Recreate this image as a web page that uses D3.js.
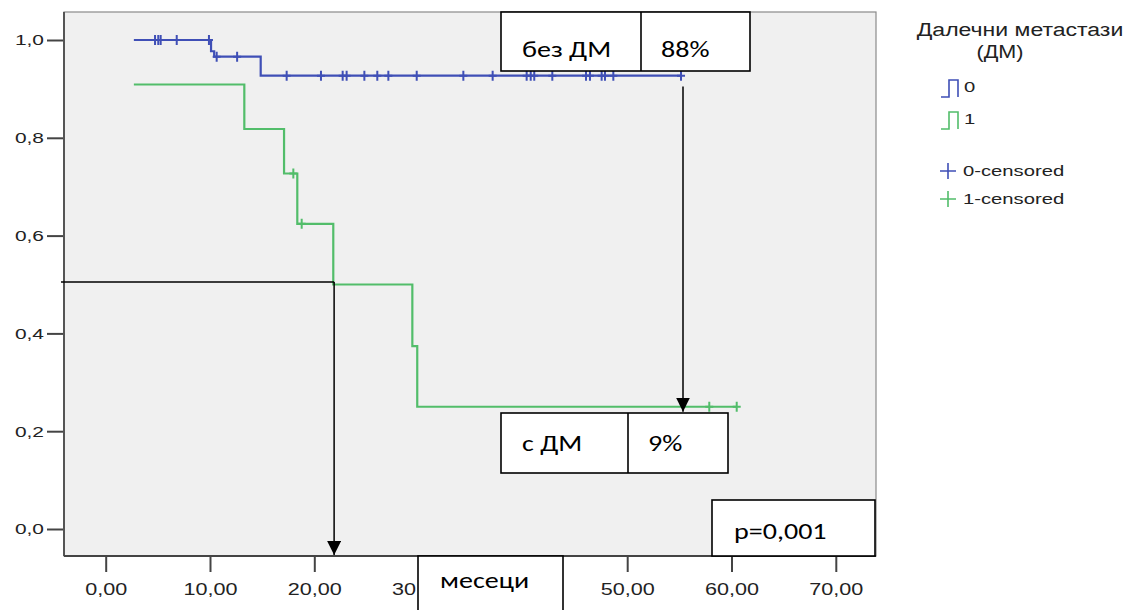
<!DOCTYPE html>
<html>
<head>
<meta charset="utf-8">
<script src="https://cdn.jsdelivr.net/npm/d3@7"></script>
<style>
  html, body { margin: 0; padding: 0; background: #ffffff; }
  svg { display: block; }
</style>
</head>
<body>
<svg id="chart" width="1139" height="610"></svg>
<script>
// Kaplan–Meier curves: survival by distant metastases (ДМ)
const groupNames = ["0", "1"];
const groupColors = ["#3f4fb6", "#52bd6a"];

// Group 0 (no distant metastases): step times (months) and survival after each step
const times0 = [2.7, 10.1, 10.4, 14.86, 55.16];
const surv0 = [1.0, 0.977, 0.966, 0.927, 0.927];
const censor0 = [4.73, 5.04, 5.27, 6.81, 9.9, 10.64, 12.6, 17.35, 20.64, 22.72, 23.1,
  24.8, 26.04, 27.1, 29.82, 34.29, 37.1, 40.36, 40.75, 41.09, 42.82, 46.05, 46.43,
  47.55, 47.87, 48.67, 55.16];

// Group 1 (with distant metastases)
const times1 = [2.7, 13.29, 17.1, 18.37, 21.82, 29.4, 29.87, 60.5];
const surv1 = [0.909, 0.818, 0.727, 0.624, 0.5, 0.374, 0.25, 0.25];
const censor1 = [17.99, 18.79, 57.87, 60.5];

// Axis ticks
const xTickValues = [0, 10, 20, 30, 40, 50, 60, 70];
const xTickLabels = ["0,00", "10,00", "20,00", "30,00", "40,00", "50,00", "60,00", "70,00"];
const yTickValues = [0, 0.2, 0.4, 0.6, 0.8, 1.0];
const yTickLabels = ["0,0", "0,2", "0,4", "0,6", "0,8", "1,0"];

// Annotations
const medianPoint = { t: 21.9, s: 0.505 };
const endArrow = { t: 55.35, from: 0.905, to: 0.24 };
const boxNo = ["без ДМ", "88%"];
const boxYes = ["с ДМ", "9%"];
const pText = "p=0,001";
const xTitle = "месеци";
const legendTitle = ["Далечни метастази", "(ДМ)"];
const legendLabels = ["0", "1", "0-censored", "1-censored"];

const svg = d3.select("#chart");
const frame = { left: 64, top: 12, right: 876, bottom: 556 };
const titleBox = { x: 418, y: 556, w: 145, h: 60 };
const sansFont = "'Liberation Sans', Arial, sans-serif";
const boxFont = "Carlito, Calibri, Lato, 'Open Sans', sans-serif";
const stretch = 1.35; // horizontal stretch of the text

const x = d3.scaleLinear().domain([0, 70]).range([105.7, 835.8]);
const y = d3.scaleLinear().domain([0, 1]).range([529, 40]);
const defs = svg.append("defs");

// plot background
svg.append("rect")
  .attr("x", frame.left).attr("y", frame.top)
  .attr("width", frame.right - frame.left).attr("height", frame.bottom - frame.top)
  .attr("fill", "#f0f0f0").attr("stroke", "#8a8a8a").attr("stroke-width", 1.2);

// axes
const xAxis = d3.axisBottom(x).tickValues(xTickValues)
  .tickFormat((d, i) => xTickLabels[i]).tickSize(16).tickSizeOuter(0);
const gx = svg.append("g").attr("transform", `translate(0,${frame.bottom})`).call(xAxis);
gx.select(".domain").remove();
gx.selectAll(".tick line").attr("stroke", "#444").attr("stroke-width", 2);
gx.selectAll(".tick text")
  .attr("font-family", sansFont).attr("font-size", 16).attr("fill", "#222")
  .attr("dy", null).attr("y", 39).attr("transform", `scale(${stretch},1)`);

// tick labels running under the axis-title box are cut at its left edge
gx.selectAll(".tick text").each(function () {
  const t = d3.select(this);
  const r = this.getBoundingClientRect();
  if (r.right <= titleBox.x || r.left >= titleBox.x + titleBox.w) return;
  if (r.left >= titleBox.x) { t.remove(); return; }
  const bb = this.getBBox();
  t.attr("text-anchor", "start").attr("x", bb.x);
  let s = t.text();
  while (s.length && this.getBoundingClientRect().right > titleBox.x) {
    s = s.slice(0, -1);
    t.text(s);
  }
});

const yAxis = d3.axisLeft(y).tickValues(yTickValues)
  .tickFormat((d, i) => yTickLabels[i]).tickSize(17).tickSizeOuter(0);
const gy = svg.append("g").attr("transform", `translate(${frame.left},0)`).call(yAxis);
gy.select(".domain").remove();
gy.selectAll(".tick line").attr("stroke", "#444").attr("stroke-width", 2);
gy.selectAll(".tick text")
  .attr("font-family", sansFont).attr("font-size", 15.5).attr("fill", "#222")
  .attr("x", -20 / stretch).attr("transform", `scale(${stretch},1)`);

// axis lines
svg.append("line").attr("x1", frame.left).attr("x2", frame.left)
  .attr("y1", frame.top).attr("y2", frame.bottom).attr("stroke", "#555").attr("stroke-width", 2);
svg.append("line").attr("x1", frame.left).attr("x2", frame.right)
  .attr("y1", frame.bottom).attr("y2", frame.bottom).attr("stroke", "#444").attr("stroke-width", 2);

// survival curves
const stepLine = d3.line().x(d => x(d[0])).y(d => y(d[1])).curve(d3.curveStepAfter);
const curves = [d3.zip(times0, surv0), d3.zip(times1, surv1)];
curves.forEach((pts, i) => {
  svg.append("path").attr("d", stepLine(pts))
    .attr("fill", "none").attr("stroke", groupColors[i]).attr("stroke-width", 2.2);
});

// survival value at time t, used to place the censor marks
function survAt(times, surv, t) {
  let s = surv[0];
  for (let i = 0; i < times.length; i++) if (times[i] <= t) s = surv[i];
  return s;
}
const censors = [
  censor0.map(t => [t, survAt(times0, surv0, t)]),
  censor1.map(t => [t, survAt(times1, surv1, t)])
];
censors.forEach((pts, i) => {
  const g = svg.append("g").attr("stroke", groupColors[i]).attr("stroke-width", 2);
  g.selectAll("path").data(pts).join("path")
    .attr("d", d => `M${x(d[0])},${y(d[1]) - 5}V${y(d[1]) + 5}M${x(d[0]) - 4},${y(d[1])}H${x(d[0]) + 4}`);
});

// arrow marker
defs.append("marker").attr("id", "arrow").attr("viewBox", "0 0 14 14")
  .attr("refX", 14).attr("refY", 7).attr("markerWidth", 14).attr("markerHeight", 14)
  .attr("markerUnits", "userSpaceOnUse").attr("orient", "auto")
  .append("path").attr("d", "M0,0L14,7L0,14Z").attr("fill", "#000");

// median: horizontal line and arrow down to the time axis
svg.append("line").attr("x1", frame.left - 3).attr("x2", x(medianPoint.t))
  .attr("y1", y(medianPoint.s)).attr("y2", y(medianPoint.s))
  .attr("stroke", "#000").attr("stroke-width", 1.5);
svg.append("line").attr("x1", x(medianPoint.t)).attr("x2", x(medianPoint.t))
  .attr("y1", y(medianPoint.s)).attr("y2", frame.bottom - 1)
  .attr("stroke", "#000").attr("stroke-width", 1.5).attr("marker-end", "url(#arrow)");

// arrow from group 0 to group 1 at the end of follow-up
svg.append("line").attr("x1", x(endArrow.t)).attr("x2", x(endArrow.t))
  .attr("y1", y(endArrow.from)).attr("y2", y(endArrow.to))
  .attr("stroke", "#000").attr("stroke-width", 1.5).attr("marker-end", "url(#arrow)");

// stretched text helper
function sText(g, tx, ty, str, size, family, sx, anchor) {
  return g.append("text")
    .attr("transform", `translate(${tx},${ty}) scale(${sx},1)`)
    .attr("text-anchor", anchor || "start")
    .attr("font-family", family).attr("font-size", size).attr("fill", "#000")
    .text(str);
}

// annotation boxes
function labelBox(x0, y0, w, h, parts, divX) {
  const g = svg.append("g");
  g.append("rect").attr("x", x0).attr("y", y0).attr("width", w).attr("height", h)
    .attr("fill", "#fff").attr("stroke", "#000").attr("stroke-width", 1.6);
  if (divX != null) {
    g.append("line").attr("x1", divX).attr("x2", divX).attr("y1", y0).attr("y2", y0 + h)
      .attr("stroke", "#000").attr("stroke-width", 1.6);
  }
  parts.forEach(p => sText(g, p.x, p.y, p.text, 23, boxFont, 1.22));
}
labelBox(501, 12, 249, 59, [{ x: 522, y: 57, text: boxNo[0] }, { x: 661, y: 57, text: boxNo[1] }], 641);
labelBox(501, 413, 227, 60, [{ x: 522, y: 451, text: boxYes[0] }, { x: 648, y: 451, text: boxYes[1] }], 628);
labelBox(712, 500, 163, 56, [{ x: 734, y: 539, text: pText }], null);
labelBox(titleBox.x, titleBox.y, titleBox.w, titleBox.h, [{ x: 440, y: 588, text: xTitle }], null);

// legend
const leg = svg.append("g").attr("fill", "#222");
sText(leg, 1020, 36, legendTitle[0], 18, sansFont, 1.28, "middle").attr("fill", "#222");
sText(leg, 1000, 58, legendTitle[1], 18, sansFont, 1.2, "middle").attr("fill", "#222");

const legRows = [80, 112, 171, 199];
groupColors.forEach((c, i) => {
  const yy = legRows[i];
  leg.append("path")
    .attr("d", `M941,${yy + 17}H949V${yy}H958V${yy + 17}`)
    .attr("fill", "none").attr("stroke", c).attr("stroke-width", 1.6);
  sText(leg, 964, yy + 12, legendLabels[i], 15, sansFont, 1.35).attr("fill", "#222");
});
groupColors.forEach((c, i) => {
  const yy = legRows[i + 2];
  leg.append("path")
    .attr("d", `M940,${yy}H956M948,${yy - 8}V${yy + 8}`)
    .attr("stroke", c).attr("stroke-width", 1.6);
  sText(leg, 963, yy + 5, legendLabels[i + 2], 15, sansFont, 1.35).attr("fill", "#222");
});
</script>
</body>
</html>
